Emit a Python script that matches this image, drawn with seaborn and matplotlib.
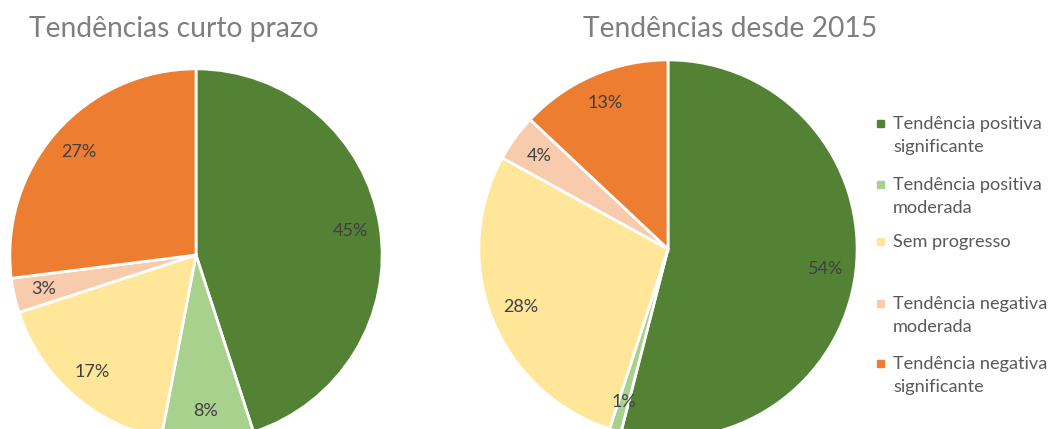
"""
Tendências curto prazo vs desde 2015 - dois gráficos circulares.
"""

import matplotlib.pyplot as plt
from matplotlib.patches import Rectangle
import seaborn as sns

sns.set_theme(style="white")
plt.rcParams["font.family"] = ["Lato", "DejaVu Sans"]

CATEGORIAS = [
    "Tendência positiva\nsignificante",
    "Tendência positiva\nmoderada",
    "Sem progresso",
    "Tendência negativa\nmoderada",
    "Tendência negativa\nsignificante",
]
CURTO_PRAZO = [45, 8, 17, 3, 27]
DESDE_2015 = [54, 1, 28, 4, 13]
CORES = ["#548235", "#A9D18E", "#FFE699", "#F8CBAD", "#ED7D31"]

TITULOS = ["Tendências curto prazo", "Tendências desde 2015"]

W, H = 1051, 429
fig = plt.figure(figsize=(W / 100, H / 100), dpi=100)


def pie_axes(cx, cy, r):
    """Eixos posicionados em pixels (origem no topo)."""
    return fig.add_axes([(cx - r) / W, (H - cy - r) / H, 2 * r / W, 2 * r / H])


def draw_pie(ax, valores):
    ax.pie(valores, colors=CORES, startangle=90, counterclock=False,
           autopct=lambda p: f"{p:.0f}%", pctdistance=0.84,
           wedgeprops=dict(edgecolor="white", linewidth=2),
           textprops=dict(color="#404040", fontsize=13))
    ax.set_xlim(-1.01, 1.01)
    ax.set_ylim(-1.01, 1.01)
    ax.set_aspect("equal")
    ax.axis("off")


ax1 = pie_axes(196, 255, 188)
draw_pie(ax1, CURTO_PRAZO)
ax2 = pie_axes(668, 249, 191)
draw_pie(ax2, DESDE_2015)

# Títulos
fig.text(174 / W, 1 - 37 / H, TITULOS[0], ha="center", va="baseline",
         fontsize=20.3, color="#7F7F7F")
fig.text(730 / W, 1 - 37 / H, TITULOS[1], ha="center", va="baseline",
         fontsize=20.3, color="#7F7F7F")

# Legenda manual (estilo Excel)
baselines = [129, 190, 247, 309, 369]
for label, cor, yb in zip(CATEGORIAS, CORES, baselines):
    fig.patches.append(Rectangle((877 / W, 1 - (yb - 2) / H), 7 / W, 7 / H,
                                 transform=fig.transFigure, color=cor))
    for i, linha in enumerate(label.split("\n")):
        fig.text(893 / W, 1 - (yb + 23 * i) / H, linha, ha="left",
                 va="baseline", fontsize=13.1, color="#595959")

plt.savefig("out.png", dpi=100)
plt.close()
